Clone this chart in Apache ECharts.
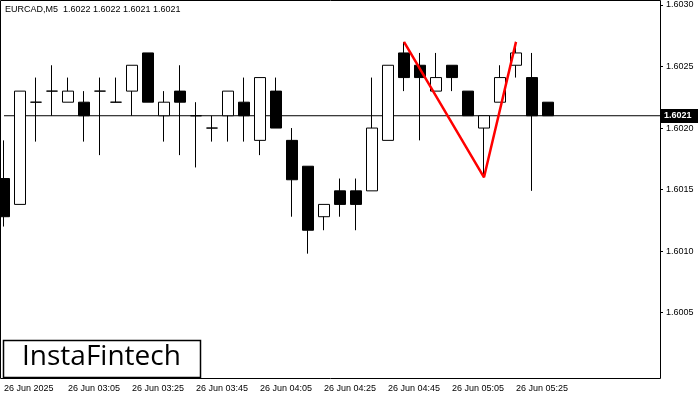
<!DOCTYPE html>
<html><head><meta charset="utf-8">
<script src="https://cdn.jsdelivr.net/npm/echarts@6/dist/echarts.min.js"></script>
<style>html,body{margin:0;padding:0;background:#fff}#c{width:700px;height:400px}</style>
</head><body><div id="c"></div>
<script>
const times=['02:45','02:50','02:55','03:00','03:05','03:10','03:15','03:20','03:25','03:30','03:35','03:40','03:45','03:50','03:55','04:00','04:05','04:10','04:15','04:20','04:25','04:30','04:35','04:40','04:45','04:50','04:55','05:00','05:05','05:10','05:15','05:20','05:25','05:30','05:35','05:40','05:45','05:50','05:55','06:00','06:05','06:10'];
const opens =[1.60159,1.60138,1.60221,1.6023,1.60221,1.60221,1.6023,1.60221,1.6023,1.60261,1.6021,1.6023,1.6021,1.6020,1.6021,1.60221,1.6019,1.6023,1.6019,1.60169,1.60128,1.60149,1.60149,1.60149,1.6019,1.60261,1.60251,1.6023,1.60251,1.6023,1.6020,1.60221,1.60251,1.60241,1.60221];
const closes=[1.60128,1.6023,1.60221,1.6023,1.6023,1.6021,1.6023,1.60221,1.60251,1.60221,1.60221,1.60221,1.6021,1.6020,1.6023,1.6021,1.60241,1.6020,1.60158,1.60117,1.60138,1.60138,1.60138,1.6020,1.60251,1.60241,1.60241,1.60241,1.60241,1.6021,1.6021,1.60241,1.60261,1.6021,1.6021];
const highs =[1.6019,1.6023,1.60241,1.60251,1.60241,1.6023,1.60241,1.60241,1.60251,1.60261,1.6023,1.60251,1.60221,1.6021,1.6023,1.60241,1.60241,1.60241,1.6020,1.60169,1.60138,1.60159,1.60159,1.60241,1.60251,1.6027,1.60261,1.60261,1.60251,1.6023,1.6021,1.60251,1.6027,1.60261,1.60221];
const lows  =[1.6012,1.60138,1.60189,1.6021,1.60221,1.60189,1.60178,1.60221,1.6021,1.60221,1.60189,1.60178,1.60168,1.60189,1.60189,1.60189,1.60178,1.6020,1.60128,1.60098,1.60117,1.60128,1.60117,1.60149,1.6019,1.6023,1.6019,1.6023,1.6023,1.6021,1.6016,1.60221,1.60241,1.60149,1.6021];
const patternIdx=[25,30,32];
const patternVals=[1.6027,1.6016,1.6027];
const yTicks=[1.6005,1.6010,1.6015,1.6020,1.6025,1.6030];
const current=1.6021;

const candle=opens.map((o,i)=>[o,closes[i],lows[i],highs[i]]);
const red=times.map(()=>null); patternIdx.forEach((k,j)=>red[k]=patternVals[j]);
const chart=echarts.init(document.getElementById('c'));
chart.setOption({
 animation:false,
 grid:{left:4,width:656,top:0,height:378},
 xAxis:{type:'category',data:times,boundaryGap:false,
   axisLine:{show:false},axisTick:{show:false},splitLine:{show:false},
   axisLabel:{interval:0,align:'left',margin:6,fontSize:9,color:'#000',fontFamily:'Liberation Sans',
     formatter:(v,i)=>(i%4===0&&i<=32)?(i===0?'26 Jun 2025':'26 Jun '+v):''}},
 yAxis:{type:'value',position:'right',min:1.59997,max:1.60304,
   axisLine:{show:false},axisTick:{show:true,customValues:yTicks,length:3,lineStyle:{color:'#000'}},splitLine:{show:false},
   axisLabel:{customValues:yTicks,formatter:v=>v.toFixed(4),fontSize:9,color:'#000',fontFamily:'Liberation Sans',margin:6}},
 series:[
  {type:'line',data:times.map(()=>current),symbol:'none',lineStyle:{color:'#000',width:1},z:1},
  {type:'candlestick',data:candle,barWidth:11,z:3,
   itemStyle:{color:'#fff',color0:'#000',borderColor:'#000',borderColor0:'#000',borderWidth:1}},
  {type:'line',data:red,connectNulls:true,symbol:'none',lineStyle:{color:'#ff0000',width:2.5},z:5}
 ],
 graphic:[
  {type:'rect',shape:{x:0.5,y:0.5,width:660,height:378},style:{fill:'none',stroke:'#000',lineWidth:1},silent:true},
  {type:'rect',shape:{x:660,y:109,width:38,height:14},style:{fill:'#000'}},
  {type:'text',x:664,y:111,style:{text:'1.6021',fill:'#fff',font:'bold 9px Liberation Sans'}},
  {type:'text',x:5,y:5,style:{text:'EURCAD,M5  1.6022 1.6022 1.6021 1.6021',fill:'#000',font:'9px Liberation Sans'}},
  {type:'rect',shape:{x:3.5,y:340.5,width:197,height:37},style:{fill:'#fff',stroke:'#000',lineWidth:1.5}},
  {type:'text',x:22,y:343,style:{text:'InstaFintech',fill:'#000',font:'28px Open Sans'}}
 ]
});
</script></body></html>
